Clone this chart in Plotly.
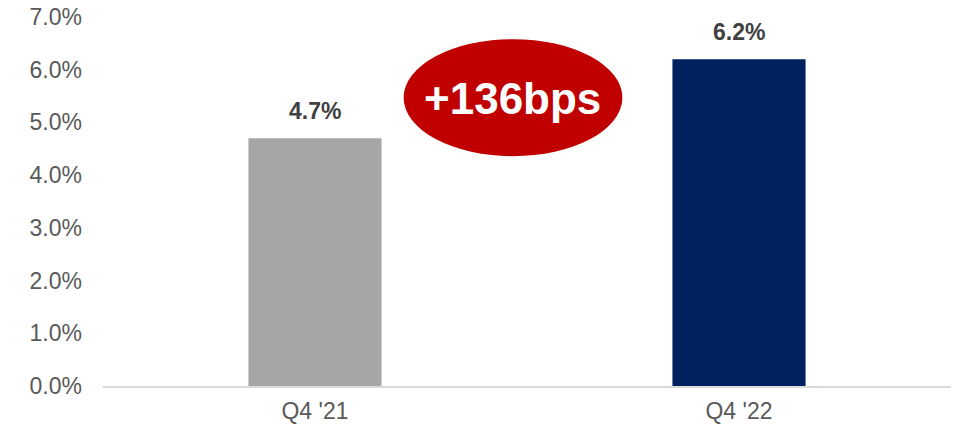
import plotly.graph_objects as go

# Quarterly ratio, Q4 2021 vs Q4 2022
quarters = ["Q4 '21", "Q4 '22"]
ratio_pct = [4.7, 6.2]
bar_colors = ["#A6A6A6", "#002060"]
y_ticks = [0, 1, 2, 3, 4, 5, 6, 7]
y_tick_text = [f"{v:.1f}%" for v in y_ticks]
change_text = "+136bps"

FONT = "Liberation Sans, Arial, sans-serif"

fig = go.Figure(
    go.Bar(
        x=quarters,
        y=ratio_pct,
        marker=dict(color=bar_colors, line=dict(width=0)),
        hoverinfo="skip",
    )
)

# value labels above each bar
for q, v in zip(quarters, ratio_pct):
    fig.add_annotation(
        x=q, y=v, xref="x", yref="y",
        text=f"<b>{v:.1f}%</b>",
        showarrow=False, yanchor="bottom", yshift=12,
        font=dict(family=FONT, size=23, color="#404040"),
    )

# red callout with the year-over-year change
fig.add_shape(
    type="circle", xref="x", yref="y",
    x0=0.209, x1=0.725, y0=4.36, y1=6.58,
    fillcolor="#C00000", line=dict(width=0), layer="above",
)
fig.add_annotation(
    x=0.466, y=5.45, xref="x", yref="y",
    text=f"<b>{change_text}</b>",
    showarrow=False,
    font=dict(family=FONT, size=44, color="#FFFFFF"),
)

fig.update_layout(
    width=956, height=429,
    margin=dict(l=103, r=5, t=17, b=43),
    paper_bgcolor="#FFFFFF", plot_bgcolor="#FFFFFF",
    bargap=0.686,
    showlegend=False,
    font=dict(family=FONT, size=23, color="#595959"),
)
fig.update_xaxes(
    showgrid=False, showline=True, linecolor="#D9D9D9", linewidth=1.5,
    ticks="", ticklabelstandoff=4, tickfont=dict(size=23, color="#595959"),
    zeroline=False,
)
fig.update_yaxes(
    range=[0, 7], tickvals=y_ticks, ticktext=y_tick_text,
    showgrid=False, showline=False, zeroline=False,
    ticks="", ticklabelstandoff=20,
    tickfont=dict(size=23, color="#595959"),
)

fig.write_html("out.html")
